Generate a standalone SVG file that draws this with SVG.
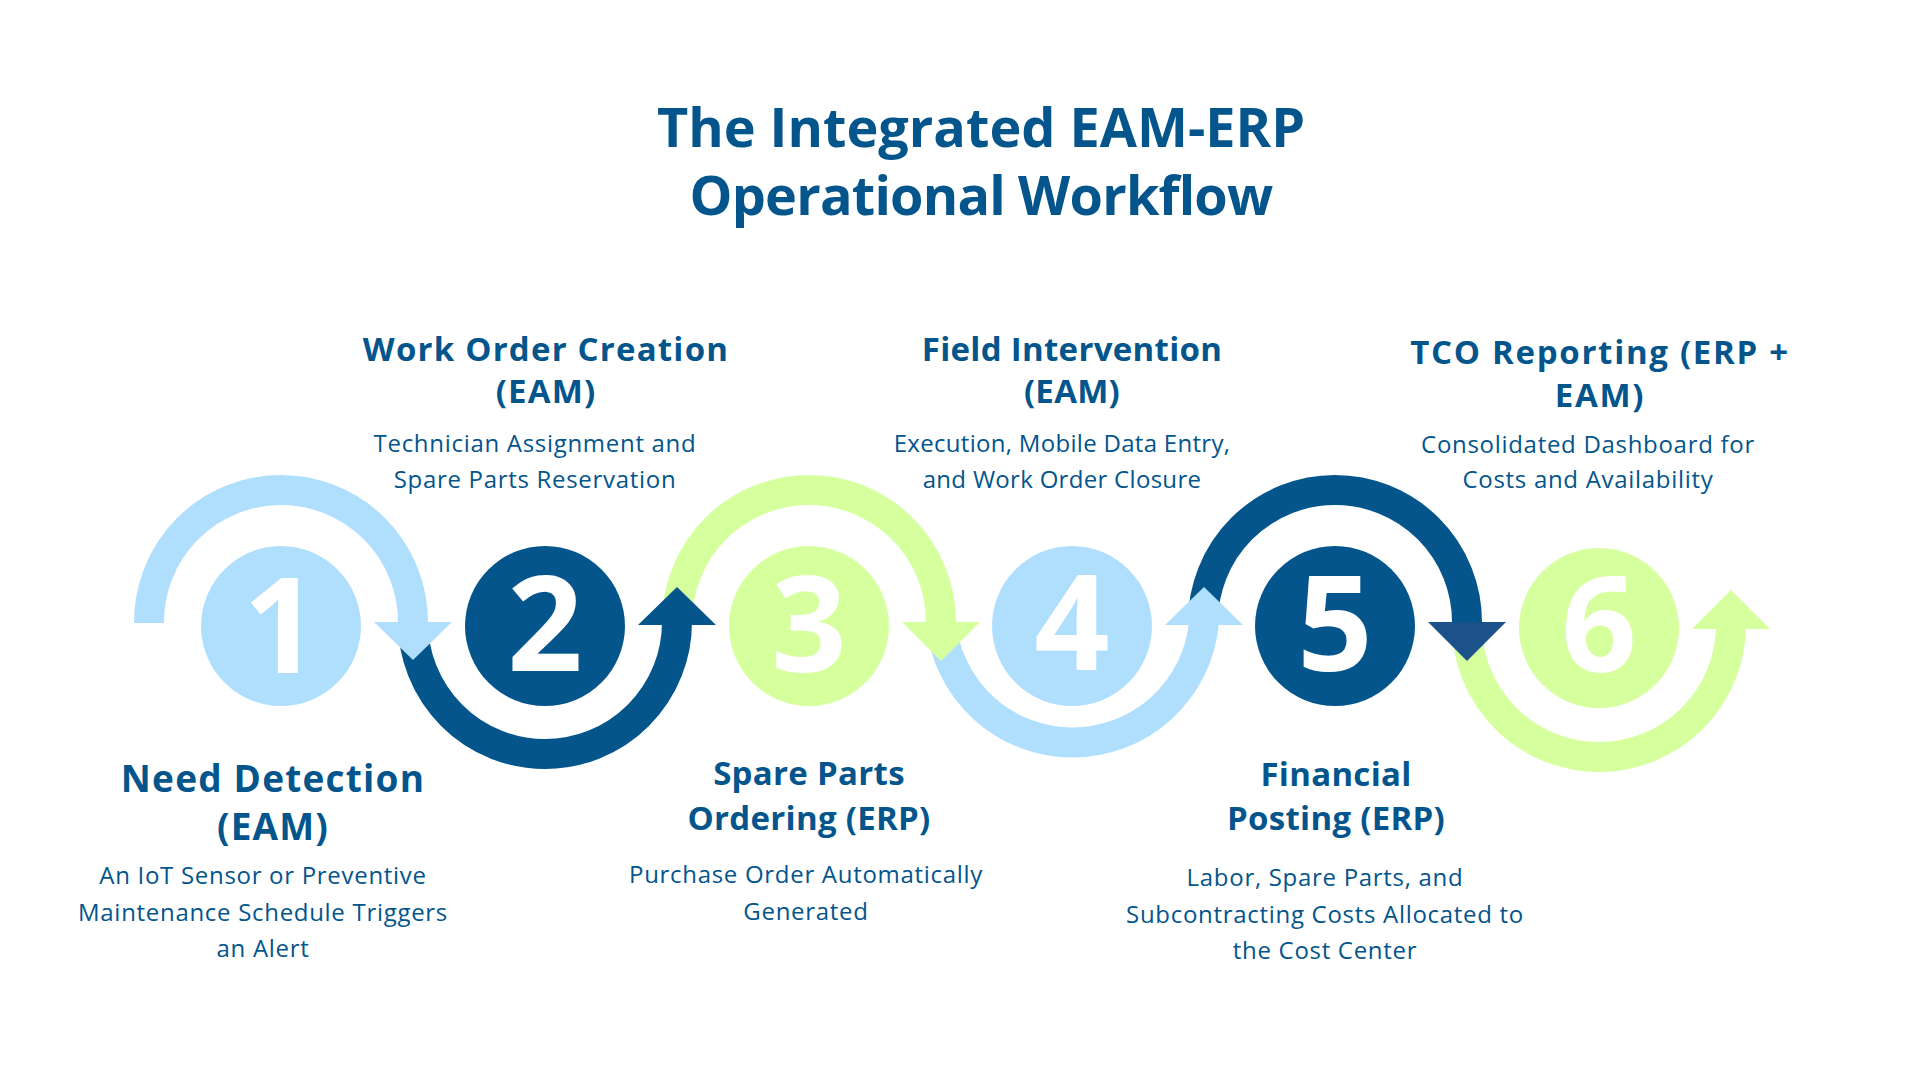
<svg xmlns="http://www.w3.org/2000/svg" width="1920" height="1080" viewBox="0 0 1920 1080">
<style>
.ttl{font-family:"Open Sans","Noto Sans",sans-serif;font-weight:700;fill:#03558C;text-anchor:middle}
.hd{font-family:"Open Sans","Noto Sans",sans-serif;font-weight:700;font-size:33px;letter-spacing:1.2px;fill:#03558C;text-anchor:middle}
.hs{letter-spacing:0.3px}
.ds{font-family:"Open Sans","Noto Sans",sans-serif;font-weight:400;font-size:24px;letter-spacing:0.7px;fill:#03558C;text-anchor:middle}
.num{font-family:"Open Sans","Noto Sans",sans-serif;font-weight:700;font-size:132px;fill:#FFFFFF;text-anchor:middle}
.arc{fill:none;stroke-width:30}
.lb{fill:#B0DFFD}.db{fill:#03558C}.gr{fill:#D6FF9D}
</style>
<rect width="1920" height="1080" fill="#FFFFFF"/>
<g id="title">
<text class="ttl" x="981" y="147" font-size="54">The Integrated EAM-ERP</text>
<text class="ttl" x="981" y="215" font-size="54" letter-spacing="-0.8">Operational Workflow</text>
</g>
<g id="connectors">
<g id="arrow6">
<path class="arc" stroke="#D6FF9D" d="M1467,625 A132,132 0 0 0 1731,625"/>
<polygon class="gr" points="1692,629 1770,629 1731,590"/>
</g>
<g id="arrow5">
<path class="arc" stroke="#03558C" d="M1203,622 A132,132 0 0 1 1467,622"/>
<polygon fill="#1A5289" points="1428,622 1506,622 1467,661"/>
</g>
<g id="arrow4">
<path class="arc" stroke="#B0DFFD" d="M941,622 A132,132 0 0 0 1204,622"/>
<polygon class="lb" points="1165,625 1243,625 1204,587"/>
</g>
<g id="arrow3">
<path class="arc" stroke="#D6FF9D" d="M677,622 A132,132 0 0 1 941,622"/>
<polygon class="gr" points="902,622 980,622 941,661"/>
</g>
<g id="arrow2">
<path class="arc" stroke="#03558C" d="M413,622 A132,132 0 0 0 677,622"/>
<polygon class="db" points="638,625 716,625 677,587"/>
</g>
<g id="arrow1">
<path class="arc" stroke="#B0DFFD" d="M149,623 L149,622 A132,132 0 0 1 413,622"/>
<polygon class="lb" points="374,622 452,622 413,660"/>
</g>
</g>
<g id="node1">
<circle cx="281" cy="626" r="80" fill="#B0DFFD"/>
<text class="num" x="281" y="673">1</text>
<text class="hd" x="273" y="792" style="font-size:37px;letter-spacing:1.2px">Need Detection</text>
<text class="hd" x="273" y="840" style="font-size:37px;letter-spacing:1.2px">(EAM)</text>
<text class="ds" x="263" y="884">An IoT Sensor or Preventive</text>
<text class="ds" x="263" y="921">Maintenance Schedule Triggers</text>
<text class="ds" x="263" y="957">an Alert</text>
</g>
<g id="node2">
<circle cx="545" cy="626" r="80" fill="#03558C"/>
<text class="num" x="545" y="671">2</text>
<text class="hd" x="546" y="361">Work Order Creation</text>
<text class="hd" x="546" y="403">(EAM)</text>
<text class="ds" x="535" y="452">Technician Assignment and</text>
<text class="ds" x="535" y="488">Spare Parts Reservation</text>
</g>
<g id="node3">
<circle cx="809" cy="626" r="80" fill="#D6FF9D"/>
<text class="num" x="809" y="672">3</text>
<text class="hd hs" x="809" y="785">Spare Parts</text>
<text class="hd hs" x="809" y="830">Ordering (ERP)</text>
<text class="ds" x="806" y="883">Purchase Order Automatically</text>
<text class="ds" x="806" y="920">Generated</text>
</g>
<g id="node4">
<circle cx="1072" cy="626" r="80" fill="#B0DFFD"/>
<text class="num" x="1072" y="670">4</text>
<text class="hd hs" x="1072" y="361">Field Intervention</text>
<text class="hd hs" x="1072" y="403">(EAM)</text>
<text class="ds" x="1062" y="452" style="letter-spacing:0.3px">Execution, Mobile Data Entry,</text>
<text class="ds" x="1062" y="488" style="letter-spacing:0.3px">and Work Order Closure</text>
</g>
<g id="node5">
<circle cx="1335" cy="626" r="80" fill="#03558C"/>
<text class="num" x="1335" y="671">5</text>
<text class="hd hs" x="1336" y="786">Financial</text>
<text class="hd hs" x="1336" y="830">Posting (ERP)</text>
<text class="ds" x="1325" y="886">Labor, Spare Parts, and</text>
<text class="ds" x="1325" y="923">Subcontracting Costs Allocated to</text>
<text class="ds" x="1325" y="959">the Cost Center</text>
</g>
<g id="node6">
<circle cx="1599" cy="628" r="80" fill="#D6FF9D"/>
<text class="num" x="1599" y="672">6</text>
<text class="hd" x="1600" y="364" style="letter-spacing:1.7px">TCO Reporting (ERP +</text>
<text class="hd" x="1600" y="407" style="letter-spacing:1.7px">EAM)</text>
<text class="ds" x="1588" y="453">Consolidated Dashboard for</text>
<text class="ds" x="1588" y="488">Costs and Availability</text>
</g>
</svg>
